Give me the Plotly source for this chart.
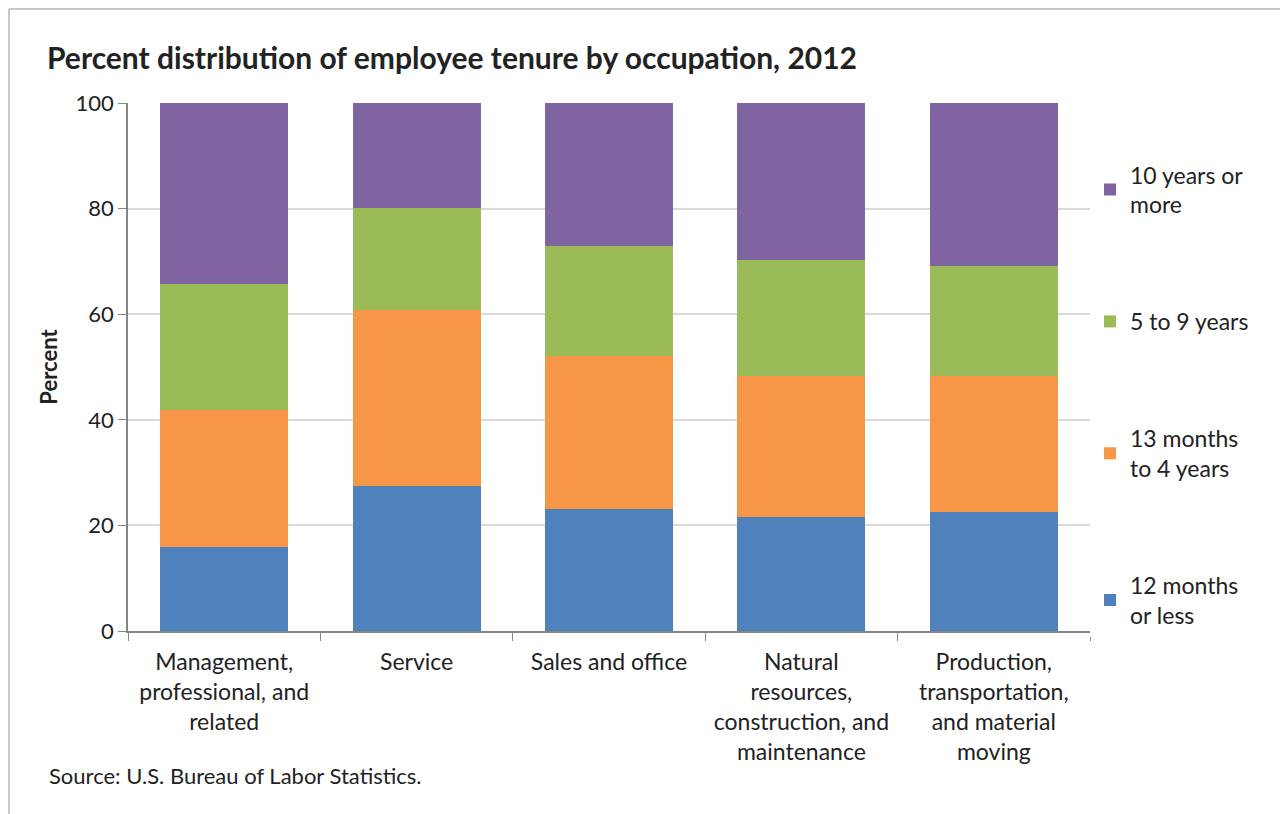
import plotly.graph_objects as go

# ------------------------------------------------------------------ #
# Data                                  #
# ------------------------------------------------------------------ #

occupations = [
    "Management,<br>professional, and<br>related",
    "Service",
    "Sales and office",
    "Natural<br>resources,<br>construction, and<br>maintenance",
    "Production,<br>transportation,<br>and material<br>moving",
]

tenure_12m_or_less = [16.0, 27.4, 23.2, 21.6, 22.5]
tenure_13m_to_4y = [25.8, 33.4, 28.9, 26.7, 25.8]
tenure_5_to_9y = [23.9, 19.3, 20.8, 21.9, 20.8]
tenure_10y_plus = [34.3, 19.9, 27.1, 29.8, 30.9]

series_names = ["12 months<br>or less", "13 months<br>to 4 years", "5 to 9 years", "10 years or<br>more"]
series_colors = ["#4F81BD", "#F79646", "#9BBB59", "#8064A2"]

_FONT = dict(family="Lato, Open Sans, Arial, sans-serif", color="#222222")
_GRID = "#D9D9D9"
_AXIS = "#868686"

# page is drawn with an 8px body offset, plot area target: x 128..1090, y 103..631
_OFF = 8

fig = go.Figure()
series = [tenure_12m_or_less, tenure_13m_to_4y, tenure_5_to_9y, tenure_10y_plus]
for i, (name, vals, colour) in enumerate(zip(series_names, series, series_colors)):
    fig.add_trace(
        go.Bar(
            x=occupations,
            y=vals,
            name=name,
            legendgroup=name,
            legendrank=len(series) - i,  # top of stack listed first
            marker=dict(color=colour, line=dict(width=0)),
        )
    )

fig.update_layout(
    width=1288,
    height=814,
    barmode="stack",
    bargap=0.335,
    paper_bgcolor="white",
    plot_bgcolor="white",
    font=dict(**_FONT, size=24),
    margin=dict(l=128 - _OFF, r=1288 - (1090 - _OFF), t=103 - _OFF, b=814 - (631 - _OFF)),
    title=dict(
        text="<b>Percent distribution of employee tenure by occupation, 2012</b>",
        font=dict(**_FONT, size=30),
        x=(47 - _OFF) / 1288,
        xanchor="left",
        y=1 - (58 - _OFF) / 814,
        yanchor="middle",
    ),
    legend=dict(
        traceorder="grouped",
        tracegroupgap=84,
        x=1.0,
        xanchor="left",
        y=0.905,
        yanchor="top",
        font=dict(**_FONT, size=23),
        itemwidth=30,
    ),
    xaxis=dict(
        showline=True,
        linecolor=_AXIS,
        linewidth=1.5,
        ticks="outside",
        tickson="boundaries",
        ticklen=8,
        tickcolor=_AXIS,
        ticklabelstandoff=10,
        tickfont=dict(**_FONT, size=23),
    ),
    yaxis=dict(
        range=[0, 100],
        tickvals=[0, 20, 40, 60, 80, 100],
        showgrid=True,
        gridcolor=_GRID,
        gridwidth=1.5,
        showline=True,
        linecolor=_AXIS,
        linewidth=1.5,
        ticks="outside",
        ticklen=8,
        tickcolor=_AXIS,
        tickfont=dict(**_FONT, size=22),
        title=dict(text="<b>Percent</b>", font=dict(**_FONT, size=22), standoff=12),
        zeroline=False,
    ),
)

# source note
fig.add_annotation(
    text="Source: U.S. Bureau of Labor Statistics.",
    xref="paper",
    yref="paper",
    x=(47 - 128) / 962,
    y=-(775 - 631) / 528,
    xanchor="left",
    yanchor="middle",
    showarrow=False,
    font=dict(**_FONT, size=22),
)

# light frame along the left and top edges
_left = (9 - 128) / 962
_top = 1 + (103 - 9) / 528
_bottom = -(814 - 631) / 528
fig.add_shape(type="line", xref="paper", yref="paper", x0=_left, x1=_left, y0=_bottom, y1=_top,
              line=dict(color="#C8C8C8", width=2))
fig.add_shape(type="line", xref="paper", yref="paper", x0=_left, x1=(1290 - 128) / 962, y0=_top, y1=_top,
              line=dict(color="#C8C8C8", width=2))

fig.write_html("out.html")
